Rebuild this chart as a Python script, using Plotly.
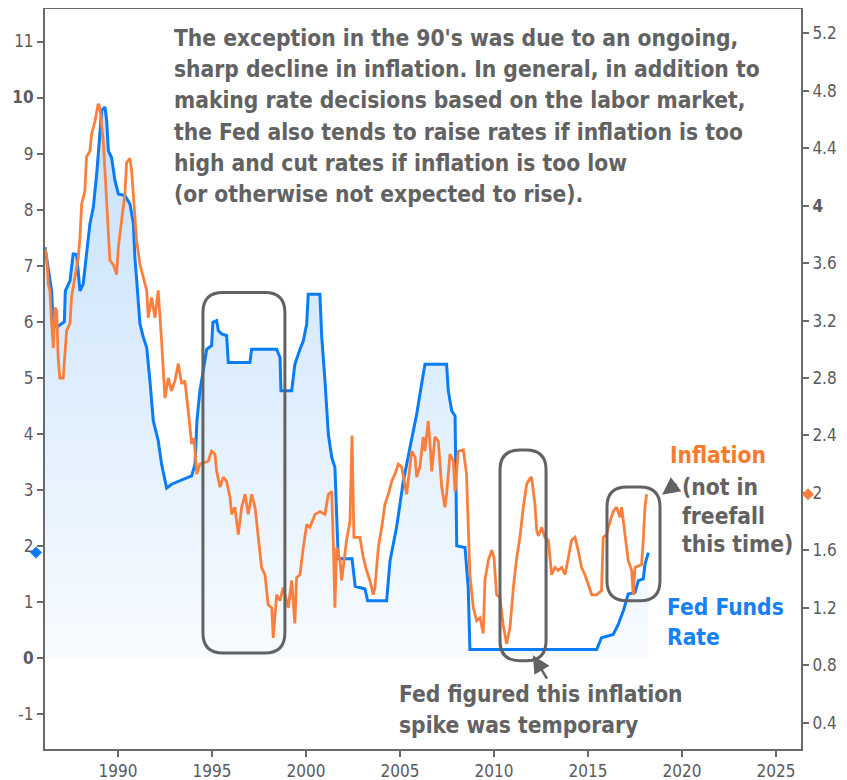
import plotly.graph_objects as go

# ---------------- data ----------------
fed_years = [1986.12, 1986.3, 1986.47, 1986.56, 1986.74, 1987.15, 1987.2, 1987.45, 1987.62, 1987.8,
             1987.89, 1987.98, 1988.15, 1988.33, 1988.51, 1988.69, 1988.87, 1989.04, 1989.13, 1989.31,
             1989.4, 1989.49, 1989.66, 1989.84, 1990.02, 1990.37, 1990.64, 1990.82, 1990.9, 1991.0,
             1991.17, 1991.35, 1991.53, 1991.7, 1991.88, 1992.14, 1992.32, 1992.59, 1992.85, 1993.92,
             1994.1, 1994.2, 1994.36, 1994.54, 1994.72, 1994.98, 1995.05, 1995.25, 1995.34, 1995.52,
             1995.78, 1995.87, 1997.02, 1997.11, 1998.44, 1998.62, 1998.67, 1999.24, 1999.33, 1999.41,
             1999.68, 1999.86, 2000.04, 2000.12, 2000.74, 2000.84, 2001.01, 2001.19, 2001.37, 2001.54,
             2001.63, 2001.72, 2002.45, 2002.62, 2003.14, 2003.28, 2004.29, 2004.47, 2004.82, 2005.18,
             2005.53, 2005.89, 2006.15, 2006.33, 2007.48, 2007.57, 2007.75, 2007.93, 2008.02, 2008.46,
             2008.63, 2008.72, 2015.46, 2015.72, 2016.34, 2016.61, 2016.88, 2017.14, 2017.5, 2017.68,
             2017.94, 2018.03, 2018.21]
fed_rate = [7.33, 6.91, 6.55, 5.96, 5.9, 6.0, 6.55, 6.73, 7.21, 7.2,
            6.79, 6.55, 6.67, 7.27, 7.75, 8.04, 8.64, 9.35, 9.77, 9.83,
            9.59, 9.05, 8.93, 8.52, 8.28, 8.25, 8.1, 7.75, 7.15, 6.73,
            5.96, 5.72, 5.54, 4.95, 4.23, 3.88, 3.46, 3.03, 3.1, 3.25,
            3.46, 4.23, 4.77, 5.13, 5.51, 5.57, 5.99, 6.02, 5.84, 5.78,
            5.75, 5.27, 5.27, 5.51, 5.51, 5.36, 4.77, 4.77, 5.0, 5.24,
            5.51, 5.66, 5.96, 6.49, 6.49, 5.72, 4.95, 3.99, 3.58, 3.4,
            2.57, 1.77, 1.77, 1.28, 1.23, 1.02, 1.02, 1.73, 2.33, 3.16,
            3.75, 4.35, 4.89, 5.24, 5.24, 4.77, 4.41, 4.32, 2.0, 1.97,
            1.26, 0.15, 0.15, 0.36, 0.42, 0.6, 0.84, 1.14, 1.17, 1.38,
            1.41, 1.67, 1.88]

infl_years = [1986.12, 1986.21, 1986.3, 1986.38, 1986.47, 1986.56, 1986.65, 1986.74, 1986.82, 1986.91,
              1987.09, 1987.18, 1987.27, 1987.45, 1987.53, 1987.71, 1987.89, 1987.98, 1988.07, 1988.24,
              1988.33, 1988.51, 1988.6, 1988.78, 1988.95, 1989.04, 1989.22, 1989.31, 1989.4, 1989.49,
              1989.57, 1989.75, 1989.93, 1990.02, 1990.2, 1990.37, 1990.46, 1990.64, 1990.73, 1990.82,
              1990.99, 1991.17, 1991.35, 1991.53, 1991.61, 1991.79, 1991.97, 1992.14, 1992.32, 1992.5,
              1992.68, 1992.85, 1993.03, 1993.21, 1993.39, 1993.56, 1993.74, 1993.92, 1994.05, 1994.19,
              1994.36, 1994.63, 1994.8, 1994.98, 1995.16, 1995.25, 1995.43, 1995.6, 1995.78, 1995.96,
              1996.05, 1996.22, 1996.4, 1996.58, 1996.76, 1996.93, 1997.11, 1997.29, 1997.46, 1997.64,
              1997.82, 1997.99, 1998.18, 1998.26, 1998.44, 1998.62, 1998.79, 1999.06, 1999.24, 1999.41,
              1999.5, 1999.68, 1999.86, 2000.04, 2000.21, 2000.48, 2000.74, 2001.01, 2001.19, 2001.37,
              2001.45, 2001.54, 2001.63, 2001.81, 2001.9, 2002.07, 2002.16, 2002.34, 2002.45, 2002.55,
              2002.87, 2003.05, 2003.22, 2003.4, 2003.58, 2003.67, 2003.85, 2004.03, 2004.2, 2004.38,
              2004.56, 2004.73, 2004.91, 2005.09, 2005.27, 2005.35, 2005.53, 2005.62, 2005.8, 2005.89,
              2006.06, 2006.24, 2006.33, 2006.5, 2006.6, 2006.69, 2006.86, 2007.04, 2007.22, 2007.39,
              2007.48, 2007.66, 2007.84, 2007.93, 2008.1, 2008.37, 2008.54, 2008.63, 2008.72, 2008.9,
              2009.08, 2009.26, 2009.43, 2009.52, 2009.7, 2009.88, 2010.0, 2010.14, 2010.32, 2010.49,
              2010.67, 2010.85, 2011.03, 2011.21, 2011.38, 2011.56, 2011.74, 2011.91, 2012.0, 2012.18,
              2012.27, 2012.36, 2012.54, 2012.71, 2012.89, 2013.07, 2013.24, 2013.42, 2013.6, 2013.78,
              2013.95, 2014.13, 2014.31, 2014.48, 2014.66, 2014.84, 2015.02, 2015.2, 2015.46, 2015.72,
              2015.81, 2015.99, 2016.17, 2016.34, 2016.52, 2016.7, 2016.79, 2016.97, 2017.14, 2017.32,
              2017.41, 2017.5, 2017.68, 2017.85, 2017.94, 2018.03, 2018.12]
infl_rate = [3.70, 3.64, 3.45, 3.41, 3.18, 3.01, 3.29, 3.27, 2.94, 2.80,
             2.80, 2.99, 3.13, 3.18, 3.36, 3.50, 3.64, 3.78, 4.01, 4.10,
             4.34, 4.38, 4.50, 4.59, 4.71, 4.68, 4.45, 4.24, 3.99, 3.83,
             3.62, 3.59, 3.52, 3.71, 3.90, 4.08, 4.30, 4.33, 4.24, 4.06,
             3.76, 3.59, 3.50, 3.41, 3.22, 3.36, 3.22, 3.41, 3.06, 2.66,
             2.80, 2.71, 2.78, 2.90, 2.76, 2.78, 2.57, 2.34, 2.38, 2.13,
             2.20, 2.21, 2.22, 2.29, 2.27, 2.15, 2.04, 2.11, 2.08, 1.97,
             1.85, 1.90, 1.71, 1.90, 1.99, 1.85, 1.99, 1.90, 1.67, 1.48,
             1.43, 1.22, 1.20, 0.99, 1.29, 1.25, 1.34, 1.20, 1.39, 1.09,
             1.41, 1.43, 1.62, 1.78, 1.76, 1.85, 1.87, 1.85, 1.99, 2.01,
             1.67, 1.20, 1.62, 1.53, 1.39, 1.55, 1.67, 1.80, 2.40, 1.69,
             1.69, 1.55, 1.46, 1.39, 1.29, 1.34, 1.62, 1.76, 1.92, 1.99,
             2.08, 2.13, 2.20, 2.18, 2.04, 1.99, 2.18, 2.29, 2.25, 2.11,
             2.18, 2.39, 2.29, 2.50, 2.34, 2.15, 2.39, 2.36, 2.04, 1.90,
             1.99, 2.27, 2.22, 2.01, 2.29, 2.30, 2.13, 1.76, 1.43, 1.20,
             1.11, 1.13, 1.02, 1.39, 1.53, 1.60, 1.55, 1.29, 1.27, 1.08,
             0.95, 1.06, 1.34, 1.55, 1.69, 1.90, 2.06, 2.10, 2.11, 1.92,
             1.74, 1.70, 1.76, 1.69, 1.67, 1.43, 1.48, 1.46, 1.48, 1.43,
             1.55, 1.67, 1.69, 1.60, 1.48, 1.43, 1.36, 1.29, 1.29, 1.32,
             1.69, 1.71, 1.80, 1.87, 1.90, 1.83, 1.90, 1.71, 1.53, 1.46,
             1.29, 1.48, 1.49, 1.50, 1.67, 1.90, 1.99]

x_tick_vals = [1990, 1995, 2000, 2005, 2010, 2015, 2020, 2025]
left_tick_vals = [-1, 0, 1, 2, 3, 4, 5, 6, 7, 8, 9, 10, 11]
left_tick_text = ["-1", "<b>0</b>", "1", "2", "3", "4", "5", "6", "7", "8", "9", "<b>10</b>", "11"]
right_tick_vals = [0.4, 0.8, 1.2, 1.6, 2.0, 2.4, 2.8, 3.2, 3.6, 4.0, 4.4, 4.8, 5.2]
right_tick_text = ["0.4", "0.8", "1.2", "1.6", "2", "2.4", "2.8", "3.2", "3.6", "<b>4</b>", "4.4", "4.8", "5.2"]

main_note = ["The exception in the 90's was due to an ongoing,",
             "sharp decline in inflation. In general, in addition to",
             "making rate decisions based on the labor market,",
             "the Fed also tends to raise rates if inflation is too",
             "high and cut rates if inflation is too low",
             "(or otherwise not expected to rise)."]
infl_note = ["(not in", "freefall", "this time)"]
fed_label = ["Fed Funds", "Rate"]
spike_note = ["Fed figured this inflation", "spike was temporary"]

# highlight boxes: (x0, x1, y0, y1) in fed-rate axis units
boxes = [(1994.52, 1998.88, 0.09, 6.52),
         (2010.32, 2012.77, -0.05, 3.71),
         (2016.01, 2018.83, 1.02, 3.05)]

# ---------------- styling ----------------
OFF = 8                      # page offset of the figure (body margin)
W, H = 847 - OFF, 780 - OFF
PL, PR, PT, PB = 45, 801, 9, 749   # plot area in page pixels
ML, MR, MT, MB = PL - OFF, W - (PR - OFF), PT - OFF, H - (PB - OFF)
XR = [1986.12, 2026.33]
YR = [-1.625, 11.58]
Y2R = [0.216, 5.37]
BLUE = "#0a7cf6"
ORANGE = "#fb7f3c"
GRAY = "#626262"
TICKC = "#5a5a62"
TXTFONT = "DejaVu Sans Condensed, DejaVu Sans, sans-serif"
TICKFONT = "DejaVu Sans Condensed, DejaVu Sans, sans-serif"

pw = PR - PL
ph = PB - PT
px_x = pw / (XR[1] - XR[0])
px_y = ph / (YR[1] - YR[0])
px_y2 = ph / (Y2R[1] - Y2R[0])

fig = go.Figure()
fig.add_trace(go.Scatter(
    x=fed_years, y=fed_rate, mode="lines", name="Fed Funds Rate",
    line=dict(color=BLUE, width=3), fill="tozeroy",
    fillgradient=dict(type="vertical", start=0, stop=10,
                      colorscale=[[0, "rgb(247,251,255)"], [1, "rgb(197,224,251)"]]),
    hoverinfo="skip", showlegend=False))
fig.add_trace(go.Scatter(
    x=infl_years, y=infl_rate, mode="lines", name="Inflation", yaxis="y2",
    line=dict(color=ORANGE, width=2.8), hoverinfo="skip", showlegend=False))

shapes = []
# last-value diamonds on the axes
def diamond(cx_paper, cy, dx, dy, yref, color):
    return dict(type="path", xref="paper", yref=yref,
                path=(f"M {cx_paper-dx},{cy} L {cx_paper},{cy+dy} L {cx_paper+dx},{cy} "
                      f"L {cx_paper},{cy-dy} Z"),
                fillcolor=color, line=dict(width=0), layer="above")

shapes.append(diamond(-9 / pw, fed_rate[-1], 6 / pw, 6 / px_y, "y", BLUE))
shapes.append(diamond(1 + 7 / pw, infl_rate[-1], 6 / pw, 6 / px_y2, "y2", ORANGE))

# rounded boxes
for (x0, x1, y0, y1) in boxes:
    r = 20
    rx = min(r / px_x, (x1 - x0) / 2)
    ry = r / px_y
    path = (f"M {x0+rx},{y1} L {x1-rx},{y1} Q {x1},{y1} {x1},{y1-ry} "
            f"L {x1},{y0+ry} Q {x1},{y0} {x1-rx},{y0} "
            f"L {x0+rx},{y0} Q {x0},{y0} {x0},{y0+ry} "
            f"L {x0},{y1-ry} Q {x0},{y1} {x0+rx},{y1} Z")
    shapes.append(dict(type="path", path=path, xref="x", yref="y",
                       line=dict(color=GRAY, width=3)))

def py(p):  # page pixel y -> paper
    return (PB - p) / ph

def pxp(p):  # page pixel x -> paper
    return (p - PL) / pw

annos = []
fs = 22.6
for i, t in enumerate(main_note):
    annos.append(dict(text=f"<b>{t}</b>", x=pxp(172), y=py(38 + i * 31.2), xref="paper", yref="paper",
                      xanchor="left", yanchor="middle", showarrow=False,
                      font=dict(family=TXTFONT, size=fs, color=GRAY)))
annos.append(dict(text="<b>Inflation</b>", x=pxp(668), y=py(455), xref="paper", yref="paper",
                  xanchor="left", yanchor="middle", showarrow=False,
                  font=dict(family=TXTFONT, size=fs, color="#f97a2c")))
for i, t in enumerate(infl_note):
    annos.append(dict(text=f"<b>{t}</b>", x=pxp(680), y=py(487 + i * 28.5), xref="paper", yref="paper",
                      xanchor="left", yanchor="middle", showarrow=False,
                      font=dict(family=TXTFONT, size=fs, color=GRAY)))
for i, t in enumerate(fed_label):
    annos.append(dict(text=f"<b>{t}</b>", x=pxp(665), y=py(607 + i * 29.5), xref="paper", yref="paper",
                      xanchor="left", yanchor="middle", showarrow=False,
                      font=dict(family=TXTFONT, size=fs, color="#1681f2")))
for i, t in enumerate(spike_note):
    annos.append(dict(text=f"<b>{t}</b>", x=pxp(397), y=py(694 + i * 31), xref="paper", yref="paper",
                      xanchor="left", yanchor="middle", showarrow=False,
                      font=dict(family=TXTFONT, size=fs, color=GRAY)))
# arrows
annos.append(dict(x=2018.94, y=2.91, xref="x", yref="y", ax=16, ay=-12, text="", showarrow=True,
                  arrowhead=2, arrowsize=1.4, arrowwidth=2.5, arrowcolor=GRAY))
annos.append(dict(x=2012.07, y=0.05, xref="x", yref="y", ax=15, ay=25, text="", showarrow=True,
                  arrowhead=2, arrowsize=1.4, arrowwidth=2.5, arrowcolor=GRAY))

axis_common = dict(showgrid=False, zeroline=False, showline=True, linecolor="#6a6a6a", linewidth=2,
                   ticks="outside", ticklen=6, tickcolor="#6a6a6a", tickwidth=1.5, automargin=False)

fig.update_layout(
    width=W, height=H, margin=dict(l=ML, r=MR, t=MT, b=MB, autoexpand=False),
    paper_bgcolor="white", plot_bgcolor="white", showlegend=False,
    xaxis=dict(range=XR, tickvals=x_tick_vals, mirror=True,
               tickfont=dict(family=TICKFONT, size=17, color=TICKC), **axis_common),
    yaxis=dict(range=YR, tickvals=left_tick_vals, ticktext=left_tick_text,
               tickfont=dict(family=TICKFONT, size=17, color=TICKC), **axis_common),
    yaxis2=dict(range=Y2R, tickvals=right_tick_vals, ticktext=right_tick_text, overlaying="y",
                side="right", tickfont=dict(family=TICKFONT, size=17, color=TICKC), **axis_common),
    shapes=shapes, annotations=annos,
)

fig.write_html("out.html")
